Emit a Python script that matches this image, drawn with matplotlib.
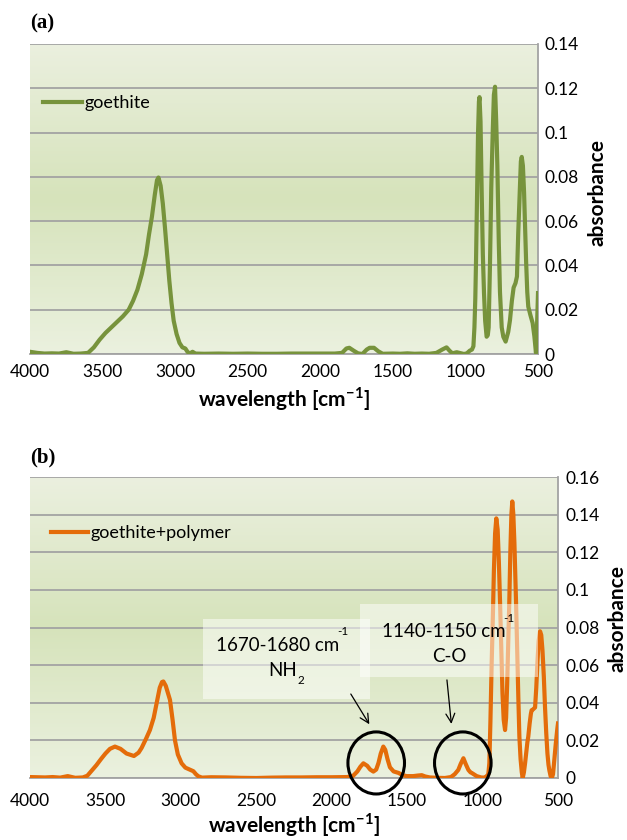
import numpy as np
import matplotlib
matplotlib.use("Agg")
import matplotlib.pyplot as plt
from matplotlib.colors import LinearSegmentedColormap
from matplotlib.patches import Ellipse, Rectangle
from matplotlib.ticker import FuncFormatter

plt.rcParams['font.family'] = ['Lato', 'DejaVu Sans']
plt.rcParams['mathtext.fontset'] = 'custom'
plt.rcParams['mathtext.rm'] = 'Lato'
plt.rcParams['mathtext.bf'] = 'Lato:bold'

# --- panel (a): goethite spectrum (wavenumber, absorbance) ---
goethite_wn = [4000, 3950, 3900, 3850, 3800, 3750, 3700, 3650, 3600, 3560,
               3520, 3480, 3440, 3400, 3360, 3320, 3290, 3260, 3230, 3200,
               3180, 3160, 3140, 3125, 3115, 3100, 3085, 3070, 3055, 3040,
               3025, 3010, 2990, 2970, 2950, 2930, 2915, 2900, 2880, 2860,
               2800, 2700, 2600, 2500, 2400, 2300, 2200, 2100, 2000, 1900,
               1850, 1820, 1800, 1770, 1740, 1710, 1680, 1660, 1630, 1600,
               1570, 1500, 1450, 1400, 1350, 1300, 1250, 1200, 1160, 1130,
               1110, 1090, 1060, 1040, 1010, 990, 970, 955, 945, 938,
               932, 927, 920, 913, 907, 903, 896, 888, 880, 872,
               864, 854, 846, 840, 831, 822, 812, 804, 796, 788,
               780, 770, 762, 750, 739, 723, 705, 693, 680, 668,
               655, 645, 636, 626, 618, 612, 604, 596, 589, 582,
               574, 567, 552, 537, 525, 514, 507, 500]
goethite_abs = [0.0010, 0.0005, 0.0002, 0.0003, 0.0002, 0.0008, 0.0001, 0.0002, 0.0005, 0.0030,
                0.0065, 0.0095, 0.0120, 0.0145, 0.0170, 0.0200, 0.0240, 0.0290, 0.0360, 0.0450,
                0.0540, 0.0620, 0.0720, 0.0785, 0.0797, 0.0760, 0.0680, 0.0570, 0.0450, 0.0330,
                0.0230, 0.0150, 0.0090, 0.0050, 0.0030, 0.0025, 0.0010, 0.0002, 0.0010, 0.0002,
                0.0001, 0.0002, 0.0001, 0.0002, 0.0001, 0.0001, 0.0002, 0.0002, 0.0002, 0.0002,
                0.0005, 0.0025, 0.0028, 0.0015, 0.0003, 0.0000, 0.0020, 0.0028, 0.0028, 0.0012,
                0.0001, 0.0002, 0.0001, 0.0003, 0.0001, 0.0002, 0.0001, 0.0005, 0.0020, 0.0030,
                0.0015, 0.0003, 0.0008, 0.0005, 0.0000, 0.0003, 0.0015, 0.0020, 0.0035, 0.0120,
                0.0250, 0.0420, 0.0720, 0.1000, 0.1140, 0.1160, 0.1050, 0.0730, 0.0450, 0.0275,
                0.0150, 0.0078, 0.0085, 0.0120, 0.0400, 0.0750, 0.1000, 0.1170, 0.1207, 0.1050,
                0.0850, 0.0500, 0.0280, 0.0120, 0.0078, 0.0056, 0.0100, 0.0153, 0.0240, 0.0300,
                0.0320, 0.0350, 0.0550, 0.0730, 0.0870, 0.0890, 0.0850, 0.0730, 0.0580, 0.0420,
                0.0280, 0.0214, 0.0175, 0.0140, 0.0080, 0.0005, 0.0120, 0.0275]

# --- panel (b): goethite+polymer spectrum ---
polymer_wn = [4000, 3950, 3900, 3850, 3800, 3750, 3700, 3650, 3620, 3590,
              3560, 3530, 3500, 3470, 3437, 3400, 3360, 3311, 3280, 3260,
              3230, 3205, 3180, 3160, 3140, 3125, 3116, 3100, 3085, 3072,
              3055, 3039, 3020, 2995, 2970, 2940, 2917, 2900, 2884, 2860,
              2800, 2700, 2600, 2500, 2400, 2300, 2200, 2100, 2000, 1900,
              1860, 1830, 1810, 1790, 1765, 1745, 1724, 1705, 1690, 1675,
              1658, 1645, 1630, 1614, 1590, 1557, 1530, 1503, 1460, 1430,
              1403, 1380, 1350, 1300, 1250, 1210, 1185, 1161, 1145, 1127,
              1112, 1094, 1080, 1072, 1055, 1039, 1010, 990, 975, 962,
              955, 948, 940, 932, 925, 917, 909, 900, 892, 884,
              876, 868, 860, 851, 844, 837, 830, 823, 816, 809,
              803, 796, 789, 783, 778, 770, 763, 756, 748, 740,
              734, 726, 718, 710, 703, 697, 688, 680, 675, 665,
              652, 644, 636, 628, 619, 611, 603, 594, 586, 578,
              570, 563, 557, 549, 541, 533, 525, 515, 504, 500]
polymer_abs = [0.0005, 0.0004, 0.0003, 0.0005, 0.0002, 0.0010, 0.0001, 0.0003, 0.0012, 0.0040,
               0.0068, 0.0100, 0.0130, 0.0155, 0.0167, 0.0155, 0.0130, 0.0117, 0.0135, 0.0160,
               0.0210, 0.0255, 0.0320, 0.0400, 0.0480, 0.0510, 0.0513, 0.0490, 0.0450, 0.0415,
               0.0310, 0.0200, 0.0125, 0.0078, 0.0055, 0.0044, 0.0036, 0.0020, 0.0009, 0.0002,
               0.0004, 0.0003, 0.0001, 0.0000, 0.0002, 0.0003, 0.0003, 0.0004, 0.0004, 0.0005,
               0.0010, 0.0035, 0.0060, 0.0078, 0.0065, 0.0045, 0.0034, 0.0045, 0.0080, 0.0130,
               0.0167, 0.0150, 0.0100, 0.0057, 0.0035, 0.0027, 0.0015, 0.0010, 0.0010, 0.0013,
               0.0015, 0.0008, 0.0003, 0.0001, 0.0000, 0.0005, 0.0020, 0.0043, 0.0075, 0.0105,
               0.0075, 0.0043, 0.0030, 0.0027, 0.0018, 0.0010, 0.0003, 0.0002, 0.0008, 0.0020,
               0.0080, 0.0300, 0.0600, 0.0850, 0.1100, 0.1300, 0.1380, 0.1320, 0.1150, 0.0930,
               0.0680, 0.0450, 0.0310, 0.0255, 0.0320, 0.0500, 0.0720, 0.0930, 0.1200, 0.1400,
               0.1470, 0.1400, 0.1250, 0.1080, 0.0930, 0.0650, 0.0430, 0.0220, 0.0100, 0.0030,
               0.0000, 0.0030, 0.0080, 0.0140, 0.0190, 0.0220, 0.0290, 0.0340, 0.0360, 0.0365,
               0.0375, 0.0480, 0.0620, 0.0730, 0.0780, 0.0760, 0.0680, 0.0540, 0.0375, 0.0240,
               0.0130, 0.0070, 0.0040, 0.0010, 0.0000, 0.0020, 0.0090, 0.0180, 0.0265, 0.0290]

x_ticks = [4000, 3500, 3000, 2500, 2000, 1500, 1000, 500]
a_yticks = [0, 0.02, 0.04, 0.06, 0.08, 0.1, 0.12, 0.14]
b_yticks = [0, 0.02, 0.04, 0.06, 0.08, 0.1, 0.12, 0.14, 0.16]

GREEN = '#77933c'
ORANGE = '#e46c0a'
GRID = '#a3a3a3'
bg_cmap = LinearSegmentedColormap.from_list(
    'bg', [(0, '#ebf0df'), (0.5, '#d6e3bb'), (1, '#ebf1df')])


def style_axes(ax, yticks, xpad, ypad):
    ax.set_xlim(4000, 500)
    ax.set_ylim(yticks[0], yticks[-1])
    ax.set_xticks(x_ticks)
    ax.set_yticks(yticks)
    ax.yaxis.set_major_formatter(FuncFormatter(lambda v, p: f'{v:g}'))
    ax.yaxis.tick_right()
    ax.tick_params(axis='x', length=0, pad=xpad, labelsize=12.5)
    ax.tick_params(axis='y', length=0, pad=ypad, labelsize=12.5)
    for s in ['left', 'top']:
        ax.spines[s].set_visible(False)
    for s in ['right', 'bottom']:
        ax.spines[s].set_color(GRID)
        ax.spines[s].set_linewidth(1.3)
    ax.grid(axis='y', color=GRID, linewidth=1.3)
    ax.set_axisbelow(True)
    grad = np.linspace(0, 1, 256).reshape(-1, 1)
    ax.imshow(grad, extent=[0, 1, 0, 1], transform=ax.transAxes,
              aspect='auto', cmap=bg_cmap, zorder=0)


def axis_labels(ax, ylab_x, ylab_y, xlab_y):
    ax.text(ylab_x, ylab_y, 'absorbance', transform=ax.transAxes, rotation=90,
            ha='center', va='center', fontsize=15, fontweight='bold')
    ax.text(0.5, xlab_y, r'wavelength [cm$^{\mathbf{-1}}$]', transform=ax.transAxes,
            ha='center', va='center', fontsize=15, fontweight='bold')


fig = plt.figure(figsize=(6.27, 8.4), dpi=100)
ax_a = fig.add_axes([30 / 627, 1 - 354 / 840, 508 / 627, 310 / 840])
ax_b = fig.add_axes([30 / 627, 1 - 778 / 840, 528 / 627, 301 / 840])

# panel (a)
style_axes(ax_a, a_yticks, xpad=7, ypad=5)
ax_a.plot(goethite_wn, goethite_abs, color=GREEN, lw=3.0, label='goethite',
          solid_joinstyle='round', zorder=3)
ax_a.legend(loc='center left', bbox_to_anchor=(0.026, 0.81), frameon=False,
            fontsize=13, handlelength=2.15, handletextpad=0.15,
            borderpad=0, borderaxespad=0)
axis_labels(ax_a, 1.118, 0.52, -0.146)

# panel (b)
style_axes(ax_b, b_yticks, xpad=11, ypad=5.5)
ax_b.plot(polymer_wn, polymer_abs, color=ORANGE, lw=3.0, label='goethite+polymer',
          solid_joinstyle='round', zorder=3)
ax_b.legend(loc='center left', bbox_to_anchor=(0.04, 0.814), frameon=False,
            fontsize=13, handlelength=2.05, handletextpad=0.15,
            borderpad=0, borderaxespad=0)
axis_labels(ax_b, 1.1136, 0.53, -0.157)

# annotation boxes
ax_b.add_patch(Rectangle((1746, 0.042), 2853 - 1746, 0.0846 - 0.042,
                         fc='white', ec='none', alpha=0.5, zorder=4))
ax_b.add_patch(Rectangle((630, 0.0539), 1812 - 630, 0.0926 - 0.0539,
                         fc='white', ec='none', alpha=0.5, zorder=4))
ax_b.text(2359, 0.0702, '1670-1680 cm', ha='center', va='center', fontsize=13.5, zorder=5)
ax_b.text(1925, 0.0778, '-1', ha='center', va='center', fontsize=8.5, zorder=5)
ax_b.text(2323, 0.0571, 'NH', ha='center', va='center', fontsize=13.5, zorder=5)
ax_b.text(2205, 0.0516, '2', ha='center', va='center', fontsize=8.5, zorder=5)
ax_b.text(1260, 0.0778, '1140-1150 cm', ha='center', va='center', fontsize=13.5, zorder=5)
ax_b.text(825, 0.085, '-1', ha='center', va='center', fontsize=8.5, zorder=5)
ax_b.text(1222, 0.0646, 'C-O', ha='center', va='center', fontsize=13.5, zorder=5)

ax_b.annotate('', xy=(1741, 0.0273), xytext=(1883, 0.0459),
              arrowprops=dict(arrowstyle='->', color='black', lw=0.9, mutation_scale=16),
              zorder=6)
ax_b.annotate('', xy=(1205, 0.0273), xytext=(1238, 0.0536),
              arrowprops=dict(arrowstyle='->', color='black', lw=0.9, mutation_scale=16),
              zorder=6)

for cx in (1705, 1131):
    ax_b.add_patch(Ellipse((cx, 0.008), 375, 0.033, fill=False, ec='black',
                           lw=2.2, clip_on=False, zorder=6))

fig.text(30 / 627, 1 - 23 / 840, '(a)', family='Liberation Serif', fontweight='bold',
         fontsize=15, ha='left', va='center')
fig.text(30 / 627, 1 - 457 / 840, '(b)', family='Liberation Serif', fontweight='bold',
         fontsize=15, ha='left', va='center')

fig.savefig('out.png', dpi=100)
plt.close(fig)
